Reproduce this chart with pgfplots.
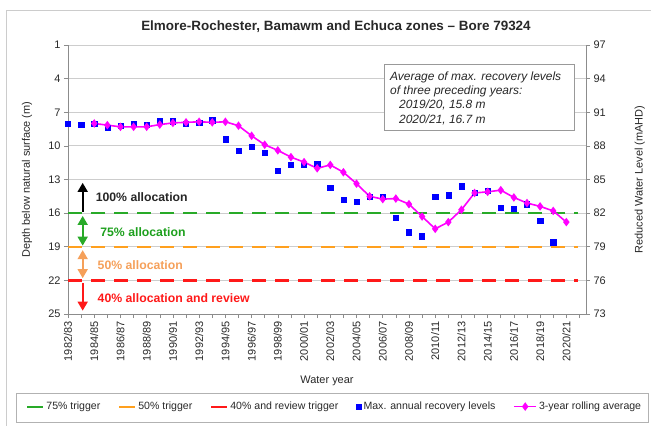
\documentclass[border=0pt]{standalone}
\usepackage{fontspec}
\setmainfont{Liberation Sans}
\usepackage{pgfplots}
\pgfplotsset{compat=1.18}
\usetikzlibrary{arrows.meta}
\definecolor{trgreen}{RGB}{40,170,40}
\definecolor{trorange}{RGB}{255,160,30}
\definecolor{trred}{RGB}{255,25,25}
\definecolor{ptblue}{RGB}{0,0,255}
\definecolor{avgpink}{RGB}{255,0,255}
\definecolor{txtorange}{RGB}{245,160,90}
\definecolor{txtgreen}{RGB}{30,160,30}
\definecolor{gridgray}{RGB}{205,205,205}
\definecolor{axgray}{RGB}{140,140,140}
\definecolor{txtgray}{RGB}{40,40,40}
\pgfplotsset{
  trigleg/.style={legend image code/.code={\draw[##1,solid,line width=2bp] (0bp,0bp) -- (16bp,0bp);}},
  markleg/.style={legend image code/.code={\draw[##1] plot coordinates {(8bp,0bp)};}},
  lineleg/.style={legend image code/.code={\draw[##1] (0bp,0bp) -- (22bp,0bp); \draw[##1] plot coordinates {(11bp,0bp)};}},
}

\begin{document}
\begin{tikzpicture}
\path[use as bounding box] (0,0) rectangle (651bp,-426bp);
\draw[gray!40] (6bp,-426bp) -- (6bp,-10bp) -- (651bp,-10bp);
\draw[gray!60] (16bp,-393bp) rectangle (648bp,-422bp);
\node[font=\fontsize{13.5}{16}\selectfont\bfseries, text=txtgray] at (336bp,-27bp) {Elmore-Rochester,\ Bamawm and Echuca zones – Bore 79324};

\begin{axis}[
  at={(68bp,-314bp)}, anchor=south west,
  scale only axis, width=518bp, height=269bp,
  xmin=0, xmax=39.5, ymin=1, ymax=25, y dir=reverse,
  ytick={1,4,...,25},
  xtick={0,2,...,38},
  xticklabels={1982/83,1984/85,1986/87,1988/89,1990/91,1992/93,1994/95,1996/97,1998/99,2000/01,2002/03,2004/05,2006/07,2008/09,2010/11,2012/13,2014/15,2016/17,2018/19,2020/21},
  minor xtick={1,3,...,39},
  xticklabel style={rotate=90, anchor=east},
  tick align=outside,
  axis x line*=bottom, axis y line*=left,
  axis line style={axgray},
  major tick style={axgray, line width=0.6pt}, minor tick style={axgray, line width=0.6pt},
  major tick length=4bp, minor tick length=4bp,
  ymajorgrids, grid style={gridgray, line width=0.8pt},
  ticklabel style={font=\fontsize{11}{13}\selectfont, text=txtgray},
  /pgf/number format/assume math mode=true,
  ylabel={Depth below natural surface (m)}, xlabel={Water year},
  label style={font=\fontsize{11}{13}\selectfont, text=txtgray},
  ylabel style={at={(axis description cs:-0.079,0.5)}, anchor=center},
  xlabel style={at={(axis description cs:0.5,-0.249)}, anchor=center},
  clip=false,
  legend columns=5,
  legend style={draw=none, fill=none, at={(axis description cs:0.515,-0.344)}, anchor=center,
    font=\fontsize{10.6}{12}\selectfont, text=txtgray,
    /tikz/every even column/.append style={column sep=16bp}},
]
\addplot[trgreen, line width=2.4bp, dash pattern=on 14bp off 9bp, trigleg]
  coordinates {(0,16) (38.9,16)};
\addlegendentry{75\% trigger}
\addplot[trorange, line width=2.4bp, dash pattern=on 14bp off 9bp, trigleg]
  coordinates {(0,19) (38.9,19)};
\addlegendentry{50\% trigger}
\addplot[trred, line width=2.4bp, dash pattern=on 14bp off 9bp, trigleg]
  coordinates {(0,22) (38.9,22)};
\addlegendentry{40\% and review trigger}
\addplot[only marks, mark=square*, mark size=2.6bp, ptblue, markleg]
  coordinates {
  (0,8.05) (1,8.1) (2,8.05) (3,8.4) (4,8.2) (5,8.05) (6,8.1) (7,7.8) (8,7.8) (9,8.0)
  (10,7.9) (11,7.7) (12,9.4) (13,10.45) (14,10.1) (15,10.6) (16,12.2) (17,11.7) (18,11.7) (19,11.6)
  (20,13.75) (21,14.8) (22,15.0) (23,14.5) (24,14.5) (25,16.4) (26,17.7) (27,18.05) (28,14.5) (29,14.4)
  (30,13.6) (31,14.2) (32,14.0) (33,15.5) (34,15.6) (35,15.2) (36,16.65) (37,18.6)};
\addlegendentry{Max. annual recovery levels}
\addplot[avgpink, line width=1.6bp, mark=diamond*, mark size=3bp, lineleg]
  coordinates {
  (2,8.0) (3,8.15) (4,8.3) (5,8.3) (6,8.3) (7,8.1) (8,7.95) (9,7.9) (10,7.85) (11,7.9)
  (12,7.85) (13,8.2) (14,9.1) (15,9.9) (16,10.4) (17,11.0) (18,11.45) (19,12.0) (20,11.7) (21,12.35)
  (22,13.37) (23,14.5) (24,14.75) (25,14.7) (26,15.2) (27,16.3) (28,17.4) (29,16.8) (30,15.7) (31,14.2)
  (32,14.1) (33,13.95) (34,14.6) (35,15.1) (36,15.4) (37,15.8) (38,16.8)};
\addlegendentry{3-year rolling average}

\draw[black, line width=1.7bp, -{Triangle[width=10bp,length=9bp]}] (axis cs:1.12,15.9) -- (axis cs:1.12,13.3);
\draw[trgreen, line width=1.7bp, {Triangle[width=10bp,length=9bp]}-{Triangle[width=10bp,length=9bp]}] (axis cs:1.12,16.25) -- (axis cs:1.12,18.9);
\draw[txtorange, line width=1.7bp, {Triangle[width=10bp,length=9bp]}-{Triangle[width=10bp,length=9bp]}] (axis cs:1.12,19.3) -- (axis cs:1.12,21.8);
\draw[trred, line width=1.7bp, -{Triangle[width=10bp,length=9bp]}] (axis cs:1.12,22.25) -- (axis cs:1.12,24.7);
\node[anchor=west, font=\fontsize{12.3}{14}\selectfont\bfseries, text=black!85] at (axis cs:1.85,14.6) {100\% allocation};
\node[anchor=west, font=\fontsize{12.3}{14}\selectfont\bfseries, text=txtgreen] at (axis cs:2.2,17.7) {75\% allocation};
\node[anchor=west, font=\fontsize{12.3}{14}\selectfont\bfseries, text=txtorange] at (axis cs:2.0,20.6) {50\% allocation};
\node[anchor=west, font=\fontsize{12.3}{14}\selectfont\bfseries, text=trred] at (axis cs:2.0,23.6) {40\% allocation and review};
\end{axis}

\begin{axis}[
  at={(68bp,-314bp)}, anchor=south west,
  scale only axis, width=518bp, height=269bp,
  xmin=0, xmax=39.5, ymin=73, ymax=97,
  axis x line=none, axis y line*=right,
  ytick={73,76,...,97},
  tick align=outside,
  axis line style={axgray},
  major tick style={axgray, line width=0.6pt}, major tick length=4bp,
  ticklabel style={font=\fontsize{11}{13}\selectfont, text=txtgray},
  /pgf/number format/assume math mode=true,
  ylabel={Reduced Water Level (mAHD)},
  label style={font=\fontsize{11}{13}\selectfont, text=txtgray},
  ylabel style={at={(axis description cs:1.104,0.5)}, anchor=center, rotate=0},
]
\end{axis}

\draw[gray!80, fill=white] (384bp,-64bp) rectangle (574bp,-130bp);
\begin{scope}[every node/.style={anchor=base west, inner sep=0pt, font=\fontsize{12}{14}\selectfont\itshape, text=txtgray}]
\node at (390bp,-80bp) {Average of max. recovery levels};
\node at (390bp,-94bp) {of three preceding years:};
\node at (399bp,-108.5bp) {2019/20, 15.8 m};
\node at (399bp,-123bp) {2020/21, 16.7 m};
\end{scope}
\end{tikzpicture}
\end{document}
